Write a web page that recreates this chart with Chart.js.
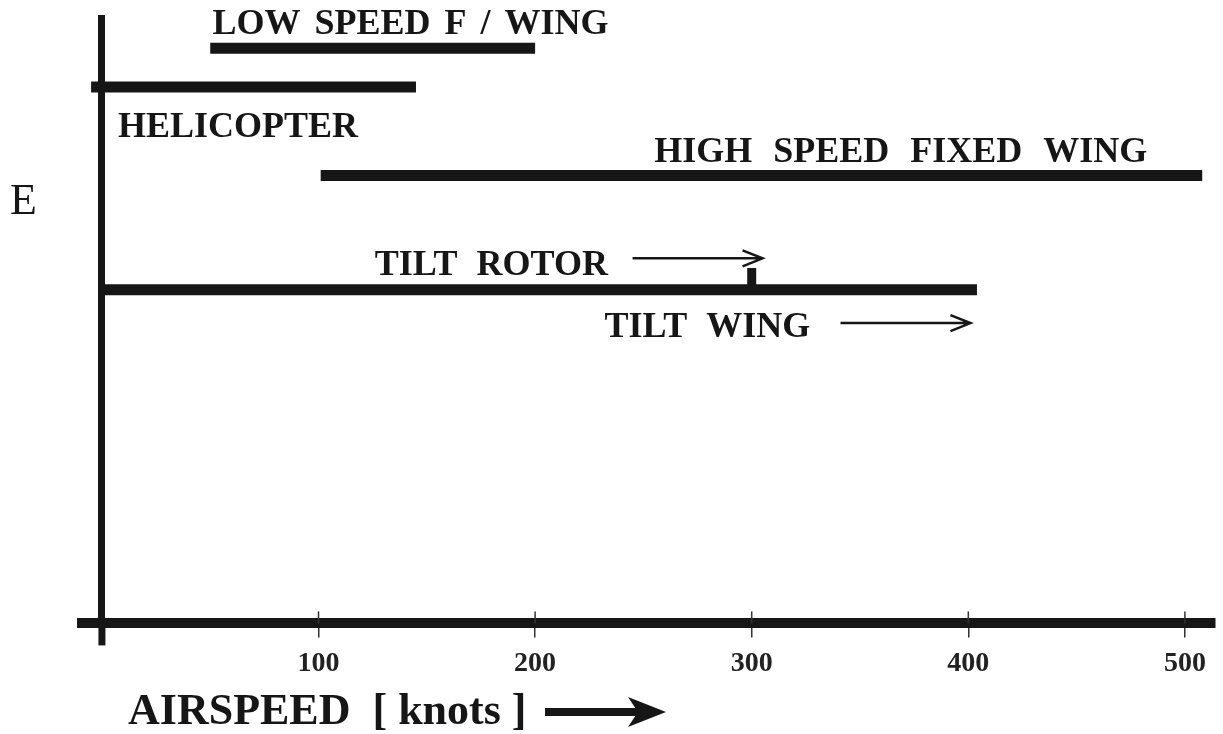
<!DOCTYPE html>
<html>
<head>
<meta charset="utf-8">
<script src="https://cdn.jsdelivr.net/npm/chart.js@4/dist/chart.umd.min.js"></script>
<style>
  html, body { margin: 0; padding: 0; background: #fff; }
  canvas { display: block; }
</style>
</head>
<body>
<canvas id="rangeChart" width="1223" height="734"></canvas>
<script>
// Speed ranges of each aircraft class (knots) and their level on the E axis
const categories = ['LOW SPEED F / WING', 'HELICOPTER', 'HIGH SPEED FIXED WING', 'TILT ROTOR / TILT WING'];
const speedMin = [50, -5, 101, 0];
const speedMax = [200, 145, 508, 404];
const energyLevel = [95, 88.6, 74, 55.1];

// Max speeds pointed at by the arrows
const tiltRotorMax = 300;
const tiltWingMax = 400;

const xTicks = [100, 200, 300, 400, 500];
const xTitle = 'AIRSPEED  [ knots ]';
const yTitle = 'E';

const ink = '#161616';
const serif = "'Liberation Serif', 'DejaVu Serif', serif";

// Label placement (knots, E) for each text on the plot
const labelSpots = [
    { text: 'LOW SPEED F / WING', x: 51, y: 97.3, gap: 5 },
    { text: 'HELICOPTER', x: 7.4, y: 80.3, gap: 10 },
    { text: 'HIGH SPEED FIXED WING', x: 255, y: 76.2, gap: 12 },
    { text: 'TILT ROTOR', x: 126, y: 57.6, gap: 10 },
    { text: 'TILT WING', x: 232, y: 47.3, gap: 10 }
];

// Build line datasets, one per horizontal bar
const datasets = categories.map((name, i) => ({
    label: name,
    data: [{ x: speedMin[i], y: energyLevel[i] }, { x: speedMax[i], y: energyLevel[i] }],
    borderColor: ink,
    borderWidth: 11,
    borderCapStyle: 'butt',
    pointRadius: 0,
    clip: false
}));

// Small mark on the tilt bar at the tilt rotor limit
datasets.push({
    label: 'tilt rotor limit',
    data: [{ x: tiltRotorMax, y: energyLevel[3] }, { x: tiltRotorMax, y: energyLevel[3] + 3.6 }],
    borderColor: ink,
    borderWidth: 9,
    borderCapStyle: 'butt',
    pointRadius: 0,
    clip: false
});

function thinArrow(ctx, x1, x2, y) {
    ctx.save();
    ctx.strokeStyle = ink;
    ctx.lineWidth = 2.5;
    ctx.beginPath();
    ctx.moveTo(x1, y);
    ctx.lineTo(x2, y);
    ctx.moveTo(x2 - 20, y - 8);
    ctx.lineTo(x2, y);
    ctx.lineTo(x2 - 20, y + 8);
    ctx.stroke();
    ctx.restore();
}

const annotationPlugin = {
    id: 'annotations',
    afterDraw(chart) {
        const { ctx, scales: { x, y } } = chart;
        const axisY = y.getPixelForValue(0);
        const axisX = x.getPixelForValue(0);

        ctx.save();
        // y axis runs a little below the x axis
        ctx.fillStyle = ink;
        ctx.fillRect(axisX - 3.5, axisY, 7, 22);

        // upper half of the tick marks
        ctx.strokeStyle = '#333';
        ctx.lineWidth = 1.5;
        xTicks.forEach(v => {
            const px = x.getPixelForValue(v);
            ctx.beginPath();
            ctx.moveTo(px, axisY - 12);
            ctx.lineTo(px, axisY);
            ctx.stroke();
        });

        // bar labels
        ctx.fillStyle = ink;
        ctx.font = 'bold 36px ' + serif;
        ctx.textBaseline = 'alphabetic';
        ctx.textAlign = 'left';
        labelSpots.forEach(l => {
            ctx.wordSpacing = l.gap + 'px';
            ctx.fillText(l.text, x.getPixelForValue(l.x), y.getPixelForValue(l.y));
        });
        ctx.wordSpacing = '0px';

        // arrows towards the tilt rotor / tilt wing limits
        thinArrow(ctx, x.getPixelForValue(tiltRotorMax - 55), x.getPixelForValue(tiltRotorMax + 5), y.getPixelForValue(60.3));
        thinArrow(ctx, x.getPixelForValue(tiltWingMax - 59), x.getPixelForValue(tiltWingMax + 1), y.getPixelForValue(49.6));

        // y axis title
        ctx.font = '44px ' + serif;
        ctx.fillText(yTitle, 10, y.getPixelForValue(67.7));

        // x axis title with thick arrow
        ctx.font = 'bold 44px ' + serif;
        ctx.fillText(xTitle, 128, 724);
        const ay = 712;
        ctx.fillRect(545, ay - 4, 95, 8);
        ctx.beginPath();
        ctx.moveTo(628, ay - 15);
        ctx.lineTo(666, ay);
        ctx.lineTo(628, ay + 15);
        ctx.lineTo(638, ay);
        ctx.closePath();
        ctx.fill();
        ctx.restore();
    }
};

new Chart(document.getElementById('rangeChart'), {
    type: 'line',
    data: { datasets },
    options: {
        responsive: false,
        animation: false,
        layout: { padding: { left: 82, right: 8, top: 18, bottom: 43 } },
        plugins: { legend: { display: false }, tooltip: { enabled: false } },
        scales: {
            x: {
                type: 'linear',
                position: 'bottom',
                min: -9.2,
                max: 513.9,
                afterBuildTicks: scale => { scale.ticks = xTicks.map(v => ({ value: v })); },
                grid: { display: true, drawOnChartArea: false, drawTicks: true, tickLength: 14, color: '#333', lineWidth: 1.5 },
                border: { display: true, width: 10, color: ink },
                ticks: {
                    padding: 10,
                    color: '#222',
                    font: { family: serif, size: 28, weight: 'bold' }
                }
            },
            y: {
                type: 'linear',
                position: { x: 0 },
                min: 0,
                max: 100,
                grid: { display: false },
                border: { display: true, width: 7, color: ink },
                ticks: { display: false }
            }
        }
    },
    plugins: [annotationPlugin]
});
</script>
</body>
</html>
